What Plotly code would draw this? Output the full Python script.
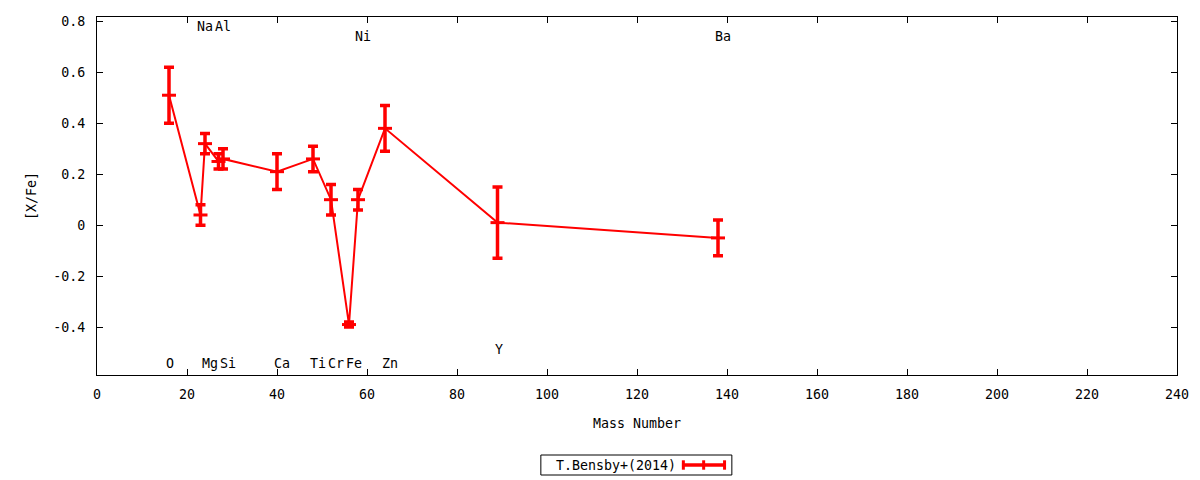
import plotly.graph_objects as go

# ---- data ----
elements = ["O", "Na", "Mg", "Al", "Si", "Ca", "Ti", "Cr", "Fe", "Ni", "Zn", "Y", "Ba"]
mass = [16, 23, 24, 27, 28, 40, 48, 52, 56, 58, 64, 89, 138]
x_fe = [0.51, 0.04, 0.32, 0.25, 0.26, 0.21, 0.26, 0.10, -0.39, 0.10, 0.38, 0.01, -0.05]
err = [0.11, 0.04, 0.04, 0.03, 0.04, 0.07, 0.05, 0.06, 0.01, 0.04, 0.09, 0.14, 0.07]
label_y = [-0.541, 0.779, -0.541, 0.779, -0.541, -0.541, -0.541, -0.541, -0.541, 0.740, -0.541, -0.486, 0.740]

x_ticks = list(range(0, 241, 20))
y_ticks = [-0.4, -0.2, 0, 0.2, 0.4, 0.6, 0.8]
y_tick_text = ["-0.4", "-0.2", "0", "0.2", "0.4", "0.6", "0.8"]

FONT = "DejaVu Sans Mono"
FS = 13.3
RED = "#ff0000"

fig = go.Figure()
fig.add_trace(go.Scatter(
    x=mass, y=x_fe,
    mode="lines+markers",
    line=dict(color=RED, width=2),
    marker=dict(symbol="line-ew", size=10, line=dict(color=RED, width=3), color=RED),
    error_y=dict(type="data", array=err, visible=True, color=RED, thickness=3.5, width=5),
    name="T.Bensby+(2014)",
    showlegend=False,
))

annotations = []
for el, m, ly in zip(elements, mass, label_y):
    annotations.append(dict(
        x=m, y=ly, xref="x", yref="y", text=el, showarrow=False,
        xanchor="center", yanchor="middle",
        xshift=(1 if len(el) == 1 else 4.5),
        font=dict(family=FONT, size=FS, color="black"),
    ))

# legend box (gnuplot-style: text left, sample right)
LX = 0.4994
LY = -90
annotations.append(dict(
    x=LX, y=0, xref="paper", yref="paper", xshift=-82, yshift=LY,
    text="T.Bensby+(2014)", showarrow=False,
    xanchor="left", yanchor="middle",
    font=dict(family=FONT, size=FS, color="black"),
))

shapes = [dict(
    type="rect", xref="paper", yref="paper",
    xsizemode="pixel", ysizemode="pixel", xanchor=LX, yanchor=0,
    x0=-95.5, x1=95.5, y0=LY - 10, y1=LY + 10,
    line=dict(color="black", width=1), fillcolor="rgba(0,0,0,0)",
)]
def seg(x0, x1, y0, y1, w):
    shapes.append(dict(
        type="line", xref="paper", yref="paper",
        xsizemode="pixel", ysizemode="pixel", xanchor=LX, yanchor=0,
        x0=x0, x1=x1, y0=y0, y1=y1, line=dict(color=RED, width=w),
    ))
seg(45.6, 89.6, LY, LY, 3.5)
seg(47, 47, LY - 4.7, LY + 4.7, 3)
seg(88.2, 88.2, LY - 4.7, LY + 4.7, 3)
seg(67.3, 67.3, LY - 4.7, LY + 4.7, 3)

fig.update_layout(
    width=1200, height=480,
    margin=dict(l=97, r=23, t=17, b=105),
    paper_bgcolor="white", plot_bgcolor="white",
    font=dict(family=FONT, size=FS, color="black"),
    annotations=annotations,
    shapes=shapes,
    showlegend=False,
    xaxis=dict(
        range=[0, 240], tickvals=x_ticks, ticks="inside", ticklen=6,
        tickcolor="black", showline=True, linecolor="black", linewidth=1,
        mirror="ticks", showgrid=False, zeroline=False,
        ticklabelstandoff=7,
        title=dict(text="Mass Number", standoff=17, font=dict(family=FONT, size=FS)),
    ),
    yaxis=dict(
        range=[-0.588, 0.817], tickvals=y_ticks, ticktext=y_tick_text,
        ticks="inside", ticklen=6, tickcolor="black",
        showline=True, linecolor="black", linewidth=1,
        mirror="ticks", showgrid=False, zeroline=False,
        ticklabelstandoff=8,
        title=dict(text="[X/Fe]", standoff=13, font=dict(family=FONT, size=FS)),
    ),
)

fig.write_html(
    "out.html",
    config={"displayModeBar": False},
    post_script="document.body.style.margin='0px';",
)
